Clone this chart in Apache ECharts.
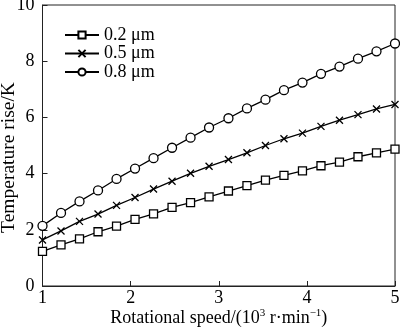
<!DOCTYPE html>
<html>
<head>
<meta charset="utf-8">
<script src="https://cdn.jsdelivr.net/npm/echarts@6/dist/echarts.min.js"></script>
<style>
  html, body { margin: 0; padding: 0; background: #fff; }
  #chart { width: 400px; height: 330px; }
</style>
</head>
<body>
<div id="chart"></div>
<script>
// Rotational speed in 10^3 r/min
const speeds = [1.00, 1.21, 1.42, 1.63, 1.84, 2.05, 2.26, 2.47, 2.68, 2.89,
                3.11, 3.32, 3.53, 3.74, 3.95, 4.16, 4.37, 4.58, 4.79, 5.00];
// Temperature rise (K) for each roughness value
const rise02 = [1.23, 1.46, 1.68, 1.93, 2.13, 2.37, 2.57, 2.80, 2.97, 3.17,
                3.38, 3.57, 3.77, 3.94, 4.10, 4.28, 4.41, 4.60, 4.74, 4.87];
const rise05 = [1.64, 1.96, 2.30, 2.56, 2.87, 3.15, 3.45, 3.73, 4.01, 4.26,
                4.50, 4.74, 5.00, 5.24, 5.44, 5.68, 5.90, 6.10, 6.30, 6.46];
const rise08 = [2.14, 2.60, 3.01, 3.40, 3.81, 4.18, 4.55, 4.92, 5.28, 5.64,
                5.97, 6.32, 6.63, 6.97, 7.24, 7.55, 7.81, 8.09, 8.35, 8.63];
const seriesNames = ['0.2 μm', '0.5 μm', '0.8 μm'];
const xTicks = [1, 2, 3, 4, 5];
const yTicks = [0, 2, 4, 6, 8, 10];

const font = 'Liberation Serif';
const pair = (ys) => speeds.map((x, i) => [x, ys[i]]);

const crossPath = 'path://M0,0L10,10M10,0L0,10';

function makeSeries(name, ys, symbol, size) {
  return {
    name: name,
    type: 'line',
    data: pair(ys),
    symbol: symbol,
    symbolSize: size,
    showAllSymbol: true,
    lineStyle: { color: '#000', width: 1.3 },
    itemStyle: { color: '#fff', borderColor: '#000', borderWidth: 1.3 },
    emphasis: { disabled: true },
    z: 3
  };
}

const chart = echarts.init(document.getElementById('chart'), null, { renderer: 'canvas' });
chart.setOption({
  animation: false,
  backgroundColor: '#fff',
  textStyle: { fontFamily: font, color: '#000' },
  grid: {
    left: 42.5, right: 5, top: 5, bottom: 44,
    containLabel: false,
    outerBoundsMode: 'none',
    show: true, borderColor: '#222', borderWidth: 1
  },
  legend: {
    orient: 'vertical',
    left: 59, top: 21,
    itemWidth: 34, itemHeight: 9,
    itemGap: 0.5,
    textStyle: { fontFamily: font, fontSize: 18, lineHeight: 18, color: '#000' },
    data: seriesNames
  },
  xAxis: {
    type: 'value',
    min: xTicks[0], max: xTicks[xTicks.length - 1], interval: 1,
    name: '{a|Rotational speed/(10}{s|3}{a| r·min}{s|−1}{a|)}',
    nameLocation: 'middle', nameGap: 22,
    nameMoveOverlap: false,
    nameTextStyle: {
      rich: {
        a: { fontFamily: font, fontSize: 18, color: '#000' },
        s: { fontFamily: font, fontSize: 11, color: '#000', verticalAlign: 'top', padding: [0, 0, 9, 0] }
      }
    },
    axisLine: { lineStyle: { color: '#222', width: 1 } },
    axisTick: { inside: true, length: 5, lineStyle: { color: '#222' } },
    axisLabel: { fontFamily: font, fontSize: 18, color: '#000', margin: 3 },
    splitLine: { show: false }
  },
  yAxis: {
    type: 'value',
    min: yTicks[0], max: yTicks[yTicks.length - 1], interval: 2,
    name: 'Temperature rise/K',
    nameLocation: 'middle', nameGap: 24,
    nameMoveOverlap: false,
    nameTextStyle: { fontFamily: font, fontSize: 19.5, color: '#000', padding: [0, 24, 0, 0] },
    axisLine: { lineStyle: { color: '#222', width: 1 } },
    axisTick: { inside: true, length: 5, lineStyle: { color: '#222' } },
    axisLabel: { fontFamily: font, fontSize: 18, color: '#000', margin: 8 },
    splitLine: { show: false }
  },
  series: [
    makeSeries(seriesNames[0], rise02, 'rect', 8),
    makeSeries(seriesNames[1], rise05, crossPath, 7),
    makeSeries(seriesNames[2], rise08, 'circle', 9)
  ]
});
</script>
</body>
</html>
